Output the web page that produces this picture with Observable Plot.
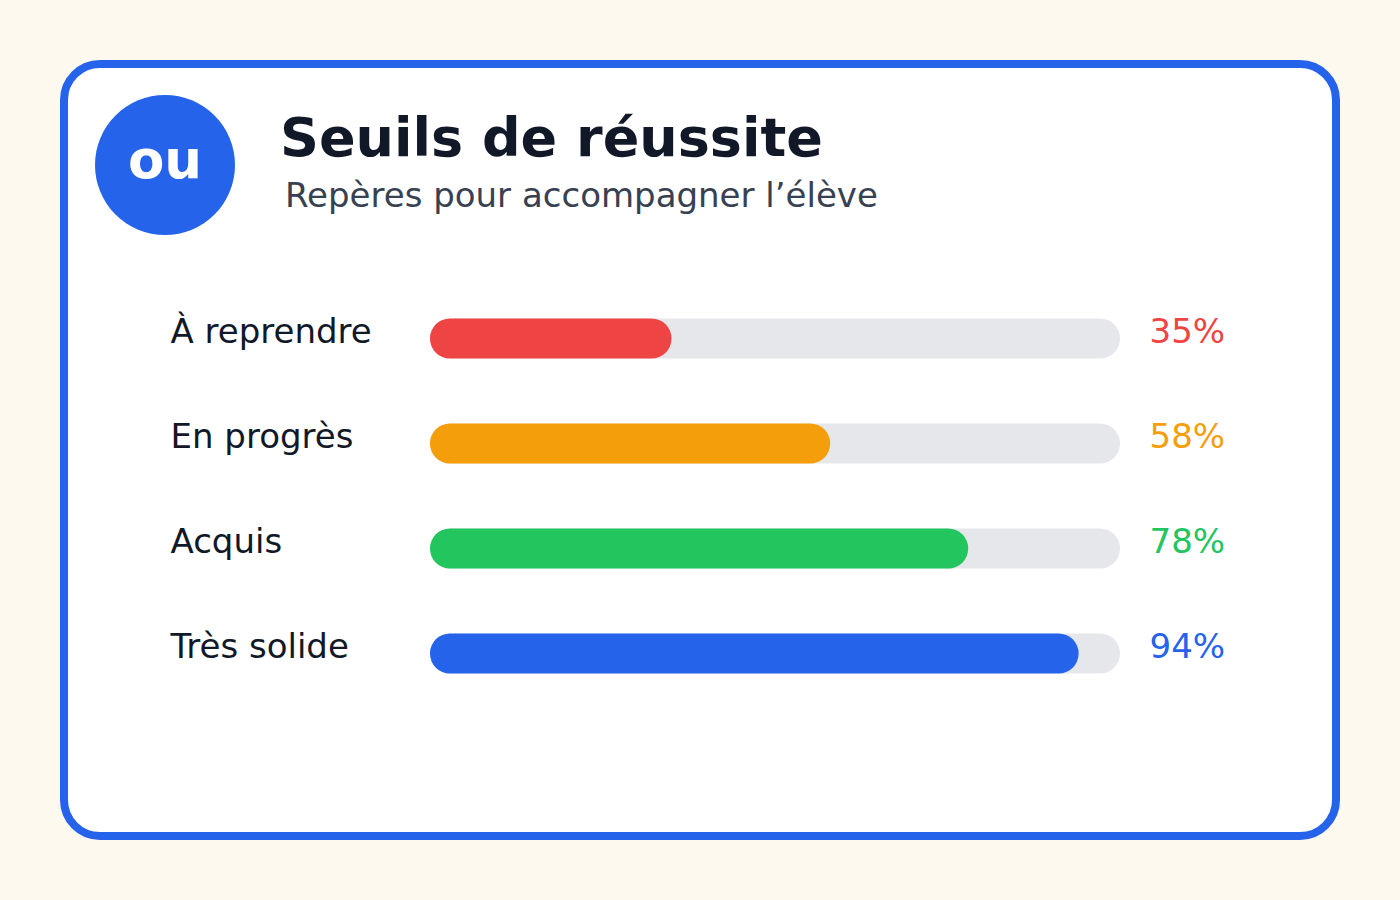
<!DOCTYPE html>
<html>
<head>
<meta charset="utf-8">
<script src="https://cdn.jsdelivr.net/npm/d3@7"></script>
<script src="https://cdn.jsdelivr.net/npm/@observablehq/plot@0.6"></script>
<style>
  html, body { margin: 0; padding: 0; background: #fdf9ef; }
  #wrap { position: relative; width: 1400px; height: 900px; font-family: "DejaVu Sans", sans-serif; }
  #card { position: absolute; left: 60px; top: 60px; width: 1280px; height: 780px; box-sizing: border-box;
          border: 8px solid #2563eb; border-radius: 40px; background: #ffffff; }
  #badge { position: absolute; left: 95px; top: 95px; width: 140px; height: 140px; border-radius: 50%; background: #2563eb; }
  #badgeText { position: absolute; left: 95px; width: 140px; top: 133px; text-align: center; color: #ffffff;
               font-weight: bold; font-size: 53px; line-height: 1; }
  #title { position: absolute; left: 280px; top: 111px; font-weight: bold; font-size: 54px; line-height: 1; color: #111827; }
  #subtitle { position: absolute; left: 285px; top: 178px; font-size: 34px; line-height: 1; color: #374151; }
  #chart { position: absolute; left: 0; top: 0; }
</style>
</head>
<body>
<div id="wrap">
  <div id="card"></div>
  <div id="badge"></div>
  <div id="badgeText">ou</div>
  <div id="title">Seuils de réussite</div>
  <div id="subtitle">Repères pour accompagner l’élève</div>
  <div id="chart"></div>
</div>
<script>
const categories = ["À reprendre", "En progrès", "Acquis", "Très solide"];
const values = [35, 58, 78, 94];
const colors = ["#ef4444", "#f59e0b", "#22c55e", "#2563eb"];
const maxValue = 100;

const data = categories.map((c, i) => ({ label: c, value: values[i], color: colors[i] }));

const chart = Plot.plot({
  width: 1400,
  height: 900,
  margin: 0,
  style: { background: "transparent", fontFamily: "DejaVu Sans, sans-serif", overflow: "visible" },
  x: { domain: [0, maxValue], range: [430, 1120], axis: null },
  y: { domain: categories, range: [285.5, 705.5], padding: 0, axis: null },
  color: { type: "identity" },
  marks: [
    Plot.barX(data, { x1: 0, x2: maxValue, y: "label", fill: "#e5e7eb", rx: 20, insetTop: 32.5, insetBottom: 32.5 }),
    Plot.barX(data, { x1: 0, x2: "value", y: "label", fill: "color", rx: 20, insetTop: 32.5, insetBottom: 32.5 }),
    Plot.text(data, { y: "label", text: "label", frameAnchor: "left", dx: 170, dy: -7, textAnchor: "start",
                      fontSize: 34, fill: "#111827" }),
    Plot.text(data, { x: maxValue, y: "label", text: d => d.value + "%", dx: 29, dy: -7, textAnchor: "start",
                      fontSize: 34, fill: "color" })
  ]
});
document.getElementById("chart").appendChild(chart);
</script>
</body>
</html>
